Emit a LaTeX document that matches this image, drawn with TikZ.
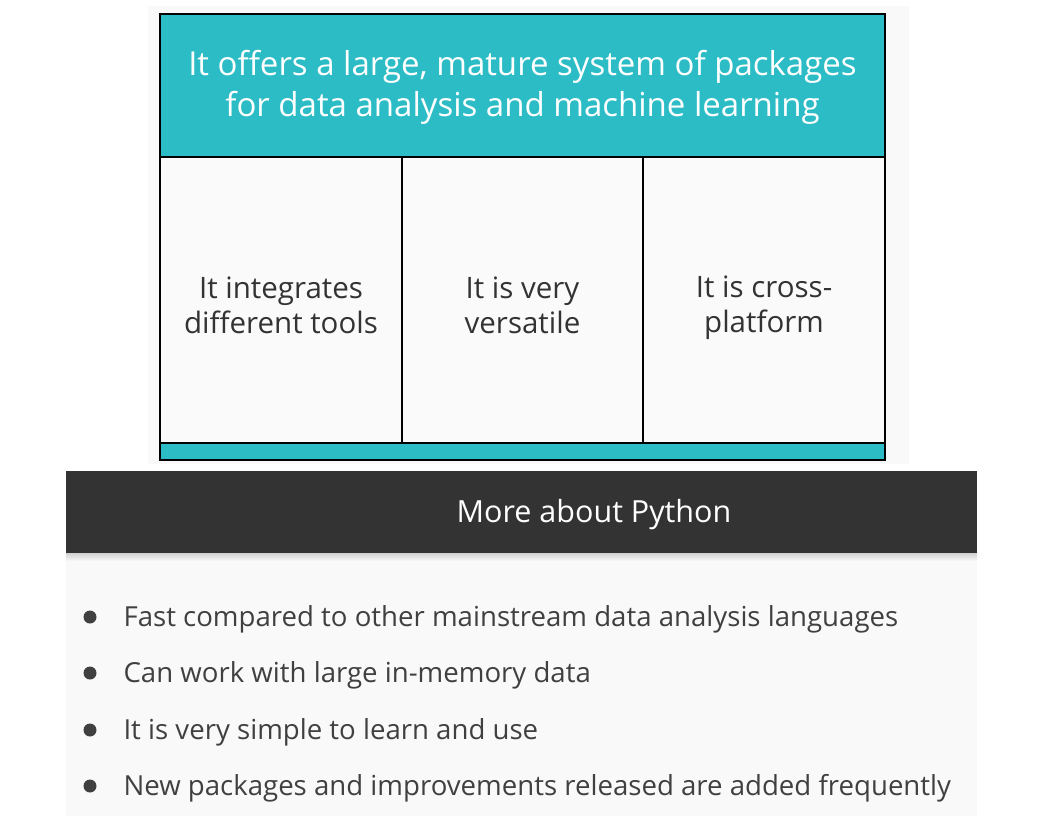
\documentclass[tikz,border=0pt]{standalone}
\usepackage{fontspec}
\setmainfont{Open Sans}
\usepackage{tikz}
\definecolor{tealbox}{RGB}{43, 188, 198}
\definecolor{paper}{RGB}{249, 249, 249}
\definecolor{cellwhite}{RGB}{250, 250, 250}
\definecolor{darkbar}{RGB}{51, 51, 51}
\definecolor{bullettext}{RGB}{64, 64, 64}

\tikzset{
  headtext/.style={text=white, align=center, font=\fontsize{33}{41}\selectfont},
  celltext/.style={text=darkbar, align=center, font=\fontsize{29.5}{35}\selectfont},
  bartext/.style={text=white, font=\fontsize{30.5}{36}\selectfont},
  itemtext/.style={text=bullettext, anchor=west, font=\fontsize{27.6}{34}\selectfont},
}

\begin{document}
\begin{tikzpicture}[x=1pt, y=-1pt]
			\useasboundingbox (0, 0) rectangle (1056, 816);
			\fill [white] (0, 0) rectangle (1056, 816);
			\fill [paper] (148, 6) rectangle (909, 464);
			\filldraw [draw=black, line width=1.2pt, fill=tealbox] (160, 14) rectangle (885, 157) node[midway, headtext, yshift=-2pt] (offers) {It offers a large, mature system of packages\\for data analysis and machine learning};
			\filldraw [draw=black, line width=1.2pt, fill=cellwhite] (160, 157) rectangle (402, 443) node[midway, celltext, yshift=-5pt] (tools) {It integrates\\different tools};
			\filldraw [draw=black, line width=1.2pt, fill=cellwhite] (402, 157) rectangle (643, 443) node[midway, celltext, yshift=-5pt] (versatile) {It is very\\versatile};
			\filldraw [draw=black, line width=1.2pt, fill=cellwhite] (643, 157) rectangle (885, 443) node[midway, celltext, yshift=-8pt] (platform) {It is cross-\\platform};
			\filldraw [draw=black, line width=1.2pt, fill=tealbox] (160, 443) rectangle (885, 460);
			\fill [paper] (66, 553) rectangle (977, 816);
			\shade [top color=black!18, bottom color=paper] (66, 553) rectangle (977, 561);
			\fill [darkbar] (66, 471) rectangle (977, 553);
			\node [bartext] (more) at (594, 515) {More about Python};
			\fill [bullettext] (90, 617) circle (6.5);
			\fill [bullettext] (90, 673) circle (6.5);
			\fill [bullettext] (90, 730) circle (6.5);
			\fill [bullettext] (90, 786) circle (6.5);
			\node [itemtext] (fast) at (120, 619) {Fast compared to other mainstream data analysis languages};
			\node [itemtext] (memory) at (120, 675) {Can work with large in-memory data};
			\node [itemtext] (simple) at (120, 732) {It is very simple to learn and use};
			\node [itemtext] (frequent) at (120, 788) {New packages and improvements released are added frequently};
		\end{tikzpicture}
\end{document}
